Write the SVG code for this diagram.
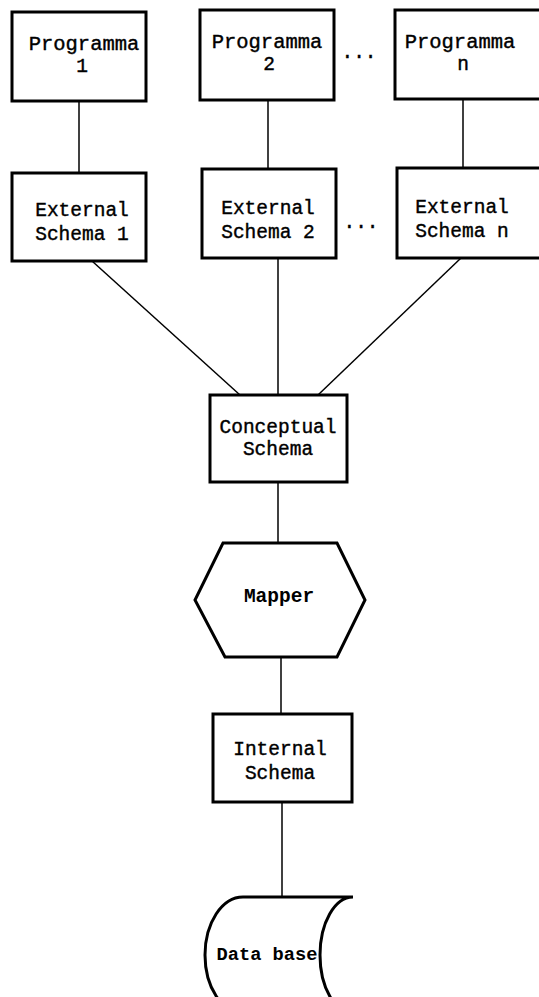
<svg xmlns="http://www.w3.org/2000/svg" width="539" height="997" viewBox="0 0 539 997">
<style>
.box{fill:#fff;stroke:#000;stroke-width:3}
.ln{stroke:#000;stroke-width:1.5;fill:none}
text{font-family:"Liberation Mono","Courier New",monospace;font-size:19.5px;fill:#000;stroke:#000;stroke-width:0.4;text-anchor:middle}
.b{font-weight:bold;stroke-width:0}
.p{font-size:20.5px}
</style>
<rect width="539" height="997" fill="#fff"/>
<g id="connectors">
<line class="ln" x1="79" y1="101" x2="79" y2="173"/>
<line class="ln" x1="268" y1="100" x2="268" y2="169"/>
<line class="ln" x1="463" y1="99" x2="463" y2="168"/>
<line class="ln" x1="92" y1="261" x2="240" y2="395"/>
<line class="ln" x1="278" y1="258" x2="278" y2="395"/>
<line class="ln" x1="461" y1="258" x2="318" y2="395"/>
<line class="ln" x1="278" y1="482" x2="278" y2="543"/>
<line class="ln" x1="281" y1="657" x2="281" y2="714"/>
<line class="ln" x1="282" y1="802" x2="282" y2="897"/>
</g>
<g id="prog1"><rect class="box" x="12" y="12" width="134" height="89"/><text class="p" x="84" y="50">Programma</text><text x="82" y="72">1</text></g>
<g id="prog2"><rect class="box" x="200" y="10" width="134" height="90"/><text class="p" x="267" y="48">Programma</text><text x="269" y="70">2</text></g>
<g id="dots1"><text x="359" y="58">...</text></g>
<g id="progn"><rect class="box" x="395" y="10" width="170" height="89"/><text class="p" x="460" y="48">Programma</text><text x="463" y="70">n</text></g>
<g id="ext1"><rect class="box" x="12" y="173" width="134" height="88"/><text x="82" y="216">External</text><text x="82" y="240">Schema 1</text></g>
<g id="ext2"><rect class="box" x="202" y="169" width="134" height="89"/><text x="268" y="214">External</text><text x="268" y="238">Schema 2</text></g>
<g id="dots2"><text x="361" y="228">...</text></g>
<g id="extn"><rect class="box" x="397" y="168" width="170" height="90"/><text x="462" y="213">External</text><text x="462" y="237">Schema n</text></g>
<g id="conceptual"><rect class="box" x="210" y="395" width="137" height="87"/><text x="278" y="433">Conceptual</text><text x="278" y="455">Schema</text></g>
<g id="mapper"><polygon class="box" points="223,543 337,543 365,600 337,657 225,657 195,600"/><text class="b" x="279" y="602">Mapper</text></g>
<g id="internal"><rect class="box" x="213" y="714" width="139" height="88"/><text x="280" y="755">Internal</text><text x="280" y="779">Schema</text></g>
<g id="database"><path class="box" d="M243,897 L353,897 A33,58 0 0 0 353,1013 L243,1013 A38,58 0 0 1 243,897 Z"/><text class="b" x="267" y="960" style="font-size:18.7px">Data base</text></g>
</svg>
